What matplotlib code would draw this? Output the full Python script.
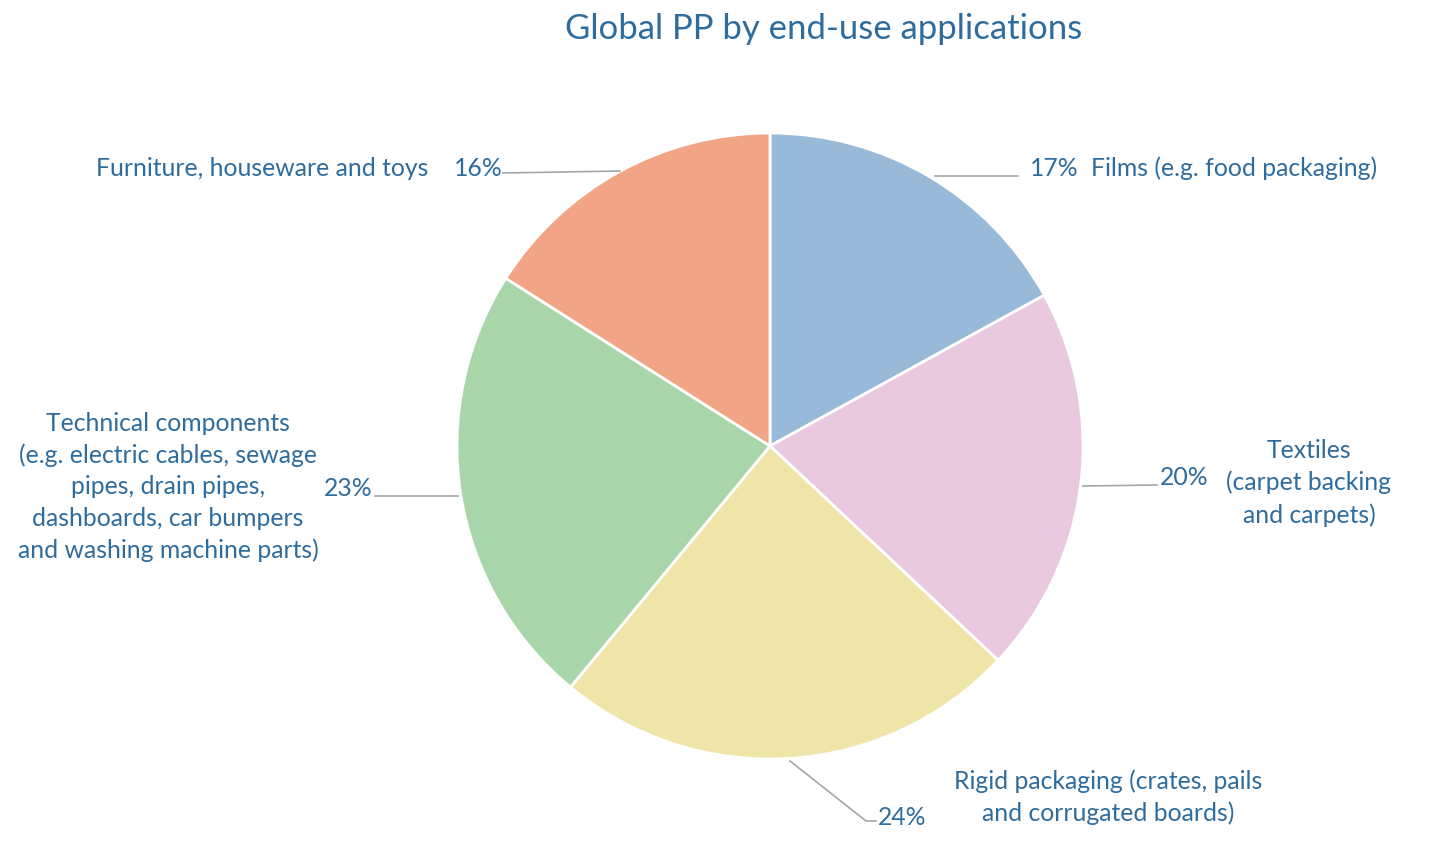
import matplotlib
matplotlib.use("Agg")
import matplotlib.pyplot as plt

categories = ["Films (e.g. food packaging)",
              "Textiles\n(carpet backing\nand carpets)",
              "Rigid packaging (crates, pails\nand corrugated boards)",
              "Technical components\n(e.g. electric cables, sewage\npipes, drain pipes,\ndashboards, car bumpers\nand washing machine parts)",
              "Furniture, houseware and toys"]
values = [17, 20, 24, 23, 16]
pct_labels = ["17%", "20%", "24%", "23%", "16%"]
colors = ["#98BAD8", "#E8C9DF", "#F0E5A9", "#A9D5AB", "#F2A586"]

TEXT = "#2E6C9E"
plt.rcParams['font.family'] = ['Lato', 'DejaVu Sans']

W, H = 1430, 845
fig = plt.figure(figsize=(W / 100, H / 100), dpi=100)
ax = fig.add_axes([0, 0, 1, 1])
CX, CY, R = 770, 447, 313

def P(x, y):
    return ((x - CX) / R, (CY - y) / R)

ax.pie(values, colors=colors, startangle=90, counterclock=False, radius=1,
       wedgeprops=dict(edgecolor="white", linewidth=2))
ax.set_xlim(-CX / R, (W - CX) / R)
ax.set_ylim(-(H - CY) / R, CY / R)
ax.set_aspect("equal")
ax.axis("off")

fs = 17.8
# (pct position, pct ha, label position, label ha, leader line pixel points)
layout = [
    ((1030, 168), "left", (1091, 168), "left", [(935, 177), (1018, 177)]),
    ((1160, 478), "left", (1309, 483), "center", [(1083, 487), (1157, 486)]),
    ((878, 818), "left", (1108, 797), "center", [(790, 762), (866, 822), (876, 822)]),
    ((372, 489), "right", (168, 487), "center", [(458, 497), (375, 497)]),
    ((503, 168), "right", (428, 168), "right", [(620, 172), (503, 174)]),
]

for (pp, pha, lp, lha, line), cat, pl in zip(layout, categories, pct_labels):
    xs, ys = zip(*[P(*p) for p in line])
    ax.plot(xs, ys, color="#A6A6A6", lw=1.2, zorder=1)
    ax.text(*P(*pp), pl, ha=pha, va="center", fontsize=fs, color=TEXT)
    ax.text(*P(*lp), cat, ha=lha, va="center", fontsize=fs, color=TEXT,
            multialignment="center", linespacing=1.43)

ax.text(*P(824, 29), "Global PP by end-use applications", ha="center",
        va="center", fontsize=25, color=TEXT)

fig.savefig("out.png", dpi=100)
